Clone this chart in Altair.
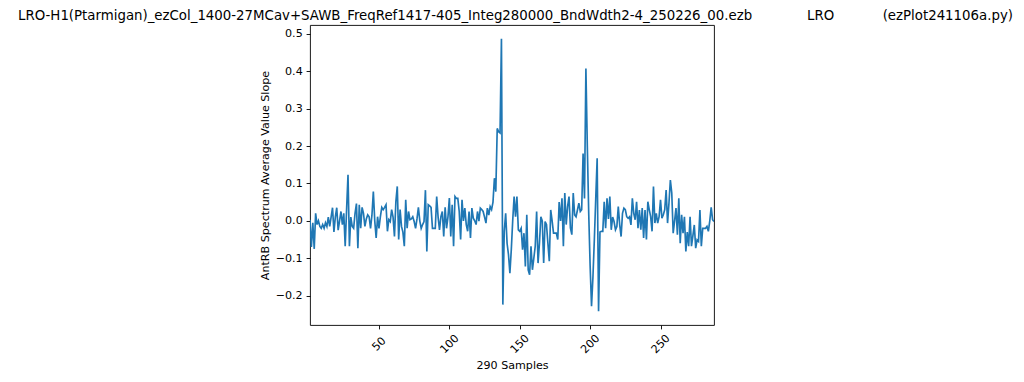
import altair as alt
import pandas as pd

sample_index = list(range(1, 289))
slope_values = [
    0.003, -0.07, -0.005, -0.075, 0.02, -0.01, 0.0, -0.015, -0.02, -0.01,
    -0.02, -0.005, -0.015, 0.01, -0.015, 0.01, 0.035, -0.03, 0.01, 0.035,
    -0.025, 0.0, 0.025, -0.01, 0.02, -0.068, 0.03, 0.123, -0.068, 0.01,
    -0.015, -0.02, 0.02, 0.046, -0.073, 0.043, -0.02, 0.036, 0.02, -0.015,
    0.005, 0.016, 0.011, -0.02, 0.015, 0.078, 0.0, -0.046, 0.011, -0.02,
    0.011, 0.036, 0.03, 0.036, 0.043, -0.028, 0.003, -0.002, 0.03, 0.01,
    -0.042, 0.051, 0.092, -0.05, 0.03, -0.015, -0.03, -0.068, 0.056, -0.02,
    0.025, 0.003, 0.005, 0.011, -0.002, -0.02, 0.005, 0.036, 0.0, -0.02,
    -0.01, -0.002, 0.082, -0.082, 0.043, 0.04, 0.036, -0.02, -0.02, -0.02,
    0.065, 0.01, -0.024, 0.011, 0.025, -0.042, 0.036, -0.02, 0.01, 0.061,
    -0.042, 0.043, -0.068, 0.065, 0.06, 0.06, 0.025, -0.05, 0.056, 0.0,
    0.034, -0.01, -0.028, 0.025, -0.046, 0.034, 0.007, 0.0, -0.01, 0.025,
    -0.001, 0.034, 0.03, 0.025, 0.01, -0.006, 0.034, 0.015, 0.038, 0.03,
    0.05, 0.114, 0.078, 0.247, 0.238, 0.235, 0.487, -0.224, -0.028, 0.02,
    -0.06, -0.09, -0.14, -0.077, 0.0, 0.065, 0.011, 0.065, -0.024, -0.028,
    -0.02, -0.077, -0.033, -0.122, 0.016, -0.131, -0.144, -0.068, -0.131, -0.1,
    -0.068, 0.025, -0.113, -0.06, 0.011, 0.0, -0.113, -0.002, -0.01, -0.06,
    -0.108, 0.029, 0.0, -0.033, -0.033, -0.033, -0.05, 0.05, 0.0, 0.06,
    -0.068, 0.074, -0.01, 0.038, 0.065, -0.019, -0.037, 0.074, 0.016, 0.011,
    0.029, 0.047, 0.025, 0.03, 0.18, 0.06, 0.407, 0.2, 0.02, -0.12,
    -0.228, -0.15, -0.05, 0.06, 0.167, -0.242, -0.03, -0.028, -0.028, 0.051,
    -0.02, 0.06, 0.005, 0.065, -0.024, 0.01, -0.002, -0.024, -0.015, 0.038,
    -0.01, -0.042, 0.02, 0.034, 0.03, 0.011, 0.007, 0.011, -0.011, 0.06,
    0.02, 0.003, 0.051, -0.02, 0.029, -0.024, 0.034, -0.046, 0.029, -0.05,
    0.051, 0.03, 0.011, -0.028, 0.092, -0.006, 0.02, -0.006, 0.011, 0.056,
    0.007, 0.016, 0.03, 0.082, -0.006, 0.047, 0.109, 0.074, -0.033, 0.0,
    0.034, -0.037, 0.06, -0.06, 0.016, -0.033, 0.011, -0.082, -0.03, -0.068,
    0.011, -0.068, -0.04, -0.011, -0.073, -0.051, -0.055, 0.029, -0.068, -0.02,
    -0.02, -0.02, -0.015, -0.028, 0.0, 0.036, 0.003, -0.002,
]
x_ticks = [50, 100, 150, 200, 250]
y_ticks = [-0.2, -0.1, 0.0, 0.1, 0.2, 0.3, 0.4, 0.5]

title_file = "LRO-H1(Ptarmigan)_ezCol_1400-27MCav+SAWB_FreqRef1417-405_Integ280000_BndWdth2-4_250226_00.ezb"
title_site = "LRO"
title_script = "(ezPlot241106a.py)"

df = pd.DataFrame({"sample": sample_index, "slope": slope_values})

FONT = "DejaVu Sans"

line = alt.Chart(df).mark_line(color="#1f77b4", strokeWidth=1.67, clip=True).encode(
    x=alt.X("sample:Q",
            scale=alt.Scale(domain=[1, 288], nice=False, zero=False),
            axis=alt.Axis(values=x_ticks, format="d", title="290 Samples",
                          labelAngle=-45, labelAlign="center", labelBaseline="middle",
                          labelPadding=15, tickSize=3.9, titlePadding=4.4)),
    y=alt.Y("slope:Q",
            scale=alt.Scale(domain=[-0.2785, 0.5235], nice=False, zero=False),
            axis=alt.Axis(values=y_ticks, format=".1f",
                          title="AntRB Spectrum Average Value Slope",
                          labelPadding=3.9, tickSize=3.9, titlePadding=4.4)),
)


def title_part(text, x, align):
    return alt.Chart().mark_text(
        font=FONT, fontSize=13.33, color="black", align=align, baseline="alphabetic"
    ).encode(x=alt.value(x), y=alt.value(-5.5), text=alt.value(text))


chart = alt.layer(
    line,
    title_part(title_file, -292, "left"),
    title_part(title_site, 497, "left"),
    title_part(title_script, 703, "right"),
).properties(
    width=404,
    height=300,
    autosize="none",
    padding={"left": 302, "top": 17, "right": 302, "bottom": 49},
).configure_view(
    stroke="black", strokeWidth=0.9
).configure_axis(
    domain=False, grid=False,
    labelFont=FONT, labelFontSize=11.11, labelColor="black",
    titleFont=FONT, titleFontSize=11.11, titleFontWeight="normal", titleColor="black",
    tickColor="black", tickWidth=0.9,
)

chart.save("out.html", embed_options={"renderer": "svg", "actions": False})
